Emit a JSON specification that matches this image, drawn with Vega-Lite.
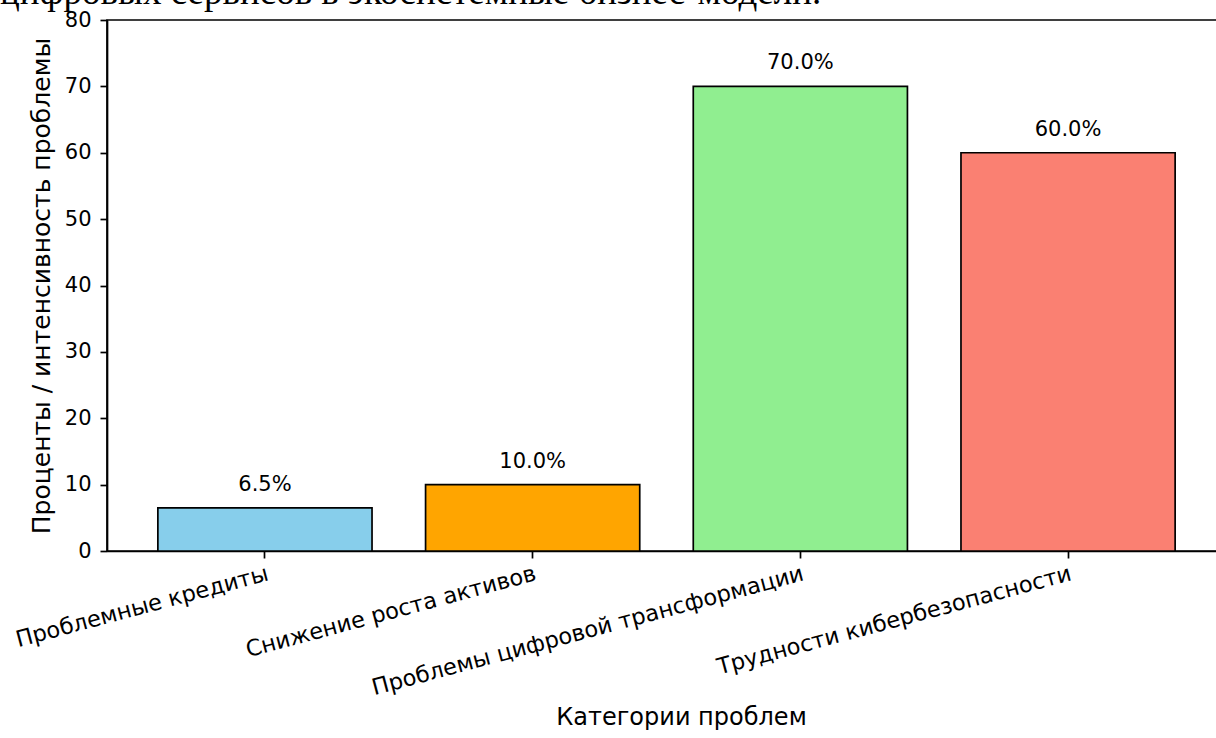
{
  "$schema": "https://vega.github.io/schema/vega-lite/v6.json",
  "autosize": {"type": "none"},
  "width": 1119,
  "height": 531,
  "padding": {"left": 107, "top": 20, "right": -10, "bottom": 187},
  "background": "white",
  "title": {
    "text": "цифровых сервисов в экосистемные бизнес-модели.",
    "anchor": "start",
    "frame": "group",
    "dx": -107,
    "offset": -32,
    "baseline": "alphabetic",
    "font": "Liberation Serif",
    "fontSize": 37,
    "fontWeight": "normal",
    "color": "#000000"
  },
  "config": {
    "view": {"stroke": "#000000", "strokeWidth": 1.7},
    "axis": {
      "labelFont": "DejaVu Sans",
      "titleFont": "DejaVu Sans",
      "labelFontSize": 21,
      "titleFontSize": 24,
      "titleFontWeight": "normal",
      "labelColor": "#000000",
      "titleColor": "#000000",
      "domainColor": "#000000",
      "domainWidth": 1.7,
      "tickColor": "#000000",
      "tickWidth": 1.7,
      "tickSize": 7,
      "grid": false
    }
  },
  "data": {
    "values": [
      {"category": "Проблемные кредиты", "value": 6.5, "label": "6.5%"},
      {"category": "Снижение роста активов", "value": 10.0, "label": "10.0%"},
      {"category": "Проблемы цифровой трансформации", "value": 70.0, "label": "70.0%"},
      {"category": "Трудности кибербезопасности", "value": 60.0, "label": "60.0%"}
    ]
  },
  "encoding": {
    "x": {
      "field": "category",
      "type": "nominal",
      "sort": null,
      "scale": {"paddingInner": 0.2, "paddingOuter": 0.19},
      "axis": {
        "title": "Категории проблем",
        "labelAngle": -15,
        "labelAlign": "right",
        "labelBaseline": "top",
        "labelPadding": 4,
        "labelLimit": 0,
        "labelFontSize": 22.5,
        "titlePadding": 6,
        "titleX": 574
      }
    }
  },
  "layer": [
    {
      "mark": {"type": "bar", "stroke": "#000000", "strokeWidth": 1.7},
      "encoding": {
        "y": {
          "field": "value",
          "type": "quantitative",
          "scale": {"domain": [0, 80], "nice": false},
          "axis": {
            "title": "Проценты / интенсивность проблемы",
            "values": [0, 10, 20, 30, 40, 50, 60, 70, 80],
            "labelPadding": 9,
            "titlePadding": 10,
            "titleFontSize": 25
          }
        },
        "color": {
          "field": "category",
          "type": "nominal",
          "scale": {
            "domain": ["Проблемные кредиты", "Снижение роста активов", "Проблемы цифровой трансформации", "Трудности кибербезопасности"],
            "range": ["#87CEEB", "#FFA500", "#90EE90", "#FA8072"]
          },
          "legend": null
        }
      }
    },
    {
      "mark": {"type": "text", "font": "DejaVu Sans", "fontSize": 21, "color": "#000000", "baseline": "alphabetic", "dy": -17},
      "encoding": {
        "y": {"field": "value", "type": "quantitative"},
        "text": {"field": "label"}
      }
    }
  ]
}
